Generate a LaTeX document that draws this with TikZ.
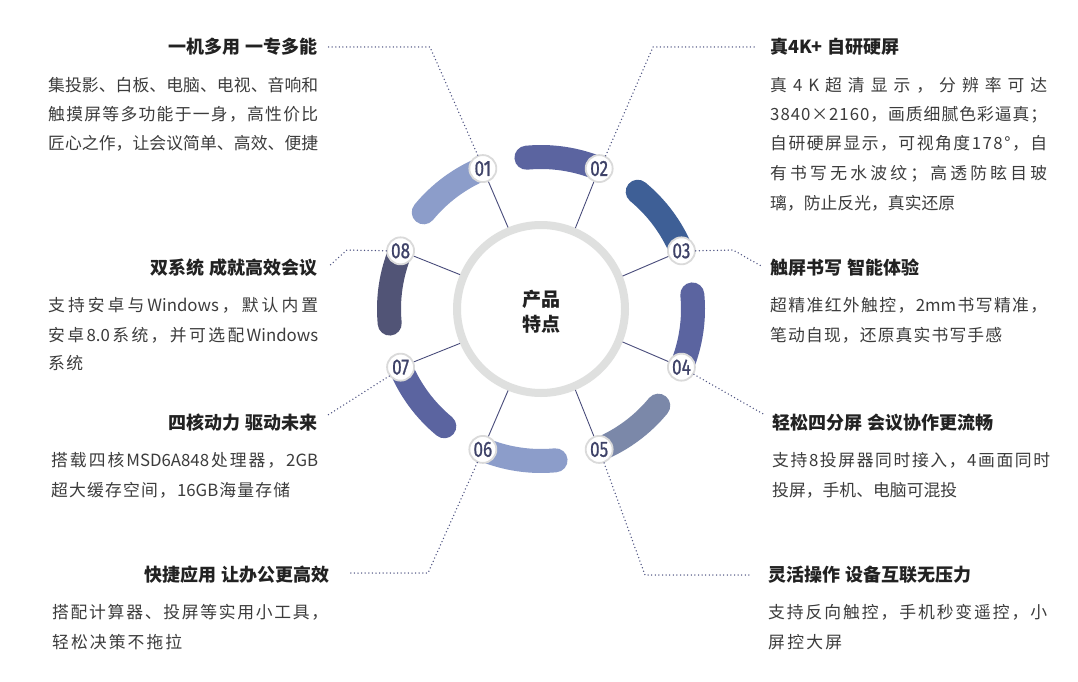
\documentclass[tikz,border=0pt]{standalone}
\usepackage{fontspec}
\setmainfont{Noto Sans CJK SC}
\newfontfamily\numfont{Fira Sans}[FakeStretch=0.78, FakeBold=0.8]
\usetikzlibrary{calc}
\definecolor{ringc}{HTML}{DFE0DF}
\definecolor{aA}{HTML}{8C9DCA}
\definecolor{aB}{HTML}{5B64A0}
\definecolor{aC}{HTML}{3E5F96}
\definecolor{aD}{HTML}{7B88A9}
\definecolor{aE}{HTML}{515476}
\definecolor{numc}{HTML}{3E4268}
\definecolor{badgeb}{HTML}{DADADA}
\definecolor{radc}{HTML}{4A4D7C}
\definecolor{leadc}{HTML}{4E5382}
\definecolor{titlec}{HTML}{222222}
\definecolor{bodyc}{HTML}{3C3C3C}
\makeatletter
\newcommand\jl[2]{\hbox to #1{\@tfor\jx:=#2\do{\jx\hfil}\unskip}}
\makeatother
\tikzset{
  arcline/.style={line width=24pt, line cap=round},
  badge/.style={circle, fill=white, draw=badgeb, line width=1.8pt, minimum size=27pt, inner sep=0pt,
    font=\numfont\fontsize{22}{22}\selectfont, text=numc},
  radial/.style={draw=radc, line width=0.9pt},
  leader/.style={draw=leadc, line width=1.5pt, dash pattern=on 0pt off 3.6pt, line cap=round},
  title/.style={font=\bfseries\fontsize{18}{20}\selectfont, text=titlec, inner sep=0pt, text height=15.8pt, text depth=2.2pt},
  body/.style={font=\fontsize{16.8}{20}\selectfont, text=bodyc, inner sep=0pt, anchor=west, text height=14.8pt, text depth=2pt}
}
\newcommand\bl[5]{\node[body] (#1) at (#2,-#3) {\jl{#4pt}{#5}};}
\begin{document}
\begin{tikzpicture}[x=1pt,y=1pt]
\useasboundingbox (0,0) rectangle (1078,-682);
\fill[white] (0,0) rectangle (1078,-682);
\coordinate (C) at (541,-309);
% central ring
\node[circle, draw=ringc, line width=8pt, minimum size=168pt, inner sep=0pt] (ring) at (C) {};
\node[font=\bfseries\fontsize{19}{25}\selectfont, text=titlec, align=center] (ctr) at ($(C)+(0,-3)$) {产品\\特点};
% arcs
\foreach \a/\c in {112.5/aA, 67.5/aB, 22.5/aC, -22.5/aB, -67.5/aD, -112.5/aA, -157.5/aB, 157.5/aE}
  \draw[arcline, draw=\c] ($(C)+(\a:152)$) arc[start angle=\a, end angle=\a+28, radius=152];
% badges
\node[badge] (b1) at ($(C)+(112.5:152)$) {01};
\node[badge] (b2) at ($(C)+(67.5:152)$) {02};
\node[badge] (b3) at ($(C)+(22.5:152)$) {03};
\node[badge] (b4) at ($(C)+(-22.5:152)$) {04};
\node[badge] (b5) at ($(C)+(-67.5:152)$) {05};
\node[badge] (b6) at ($(C)+(-112.5:152)$) {06};
\node[badge] (b7) at ($(C)+(-157.5:152)$) {07};
\node[badge] (b8) at ($(C)+(157.5:152)$) {08};
% radial lines
\draw[radial] (b1) -- (ring.112.5);
\draw[radial] (b2) -- (ring.67.5);
\draw[radial] (b3) -- (ring.22.5);
\draw[radial] (b4) -- (ring.-22.5);
\draw[radial] (b5) -- (ring.-67.5);
\draw[radial] (b6) -- (ring.-112.5);
\draw[radial] (b7) -- (ring.-157.5);
\draw[radial] (b8) -- (ring.157.5);
% titles
\node[title, anchor=east] (t1) at (318,-47) {一机多用\hspace{5pt}一专多能};
\node[title, anchor=east] (t8) at (318,-268) {双系统\hspace{5pt}成就高效会议};
\node[title, anchor=east] (t7) at (318,-423) {四核动力\hspace{5pt}驱动未来};
\node[title, anchor=east] (t6) at (330,-575) {快捷应用\hspace{5pt}让办公更高效};
\node[title, anchor=west] (t2) at (770,-47) {真4K+\hspace{5pt}自研硬屏};
\node[title, anchor=west] (t3) at (770,-268) {触屏书写\hspace{5pt}智能体验};
\node[title, anchor=west] (t4) at (772,-423) {轻松四分屏\hspace{5pt}会议协作更流畅};
\node[title, anchor=west] (t5) at (768,-575) {灵活操作\hspace{5pt}设备互联无压力};
% leaders
\coordinate (k1) at (430,-47);
\coordinate (k2) at (653,-47);
\coordinate (k3) at (733,-250);
\coordinate (k5) at (645,-575);
\coordinate (k6) at (428,-573);
\coordinate (k8) at (347,-250);
\draw[leader] (b1.111) -- (k1) -- ($(t1.east)+(10,0)$);
\draw[leader] (b2.63) -- (k2) -- ($(t2.west)+(-13,0)$);
\draw[leader] (b3.east) -- (k3) -- ($(t3.west)+(-7,1)$);
\draw[leader] (b4.-30) -- ($(t4.west)+(-7,8)$);
\draw[leader] (b5.-70) -- (k5) -- ($(t5.west)+(-16,0)$);
\draw[leader] (b6.-113) -- (k6) -- ($(t6.east)+(18,2)$);
\draw[leader] (b7.-142) -- ($(t7.east)+(10,8)$);
\draw[leader] (b8.west) -- (k8) -- ($(t8.east)+(10,1)$);
% body texts
\bl{p1a}{48}{85}{270}{集投影、白板、电脑、电视、音响和}
\bl{p1b}{48}{114}{270}{触摸屏等多功能于一身，高性价比}
\bl{p1c}{48}{143}{270}{匠心之作，让会议简单、高效、便捷}
\bl{p8a}{48}{305}{270}{支持安卓与{Windows}，默认内置}
\bl{p8b}{48}{335}{270}{安卓{8.0}系统，并可选配{Windows}}
\bl{p8c}{48}{363}{35}{系统}
\bl{p7a}{51}{460}{267}{搭载四核{MSD6A848}处理器，{2GB}}
\bl{p7b}{51}{490}{239}{超大缓存空间，{16GB}海量存储}
\bl{p6a}{52}{612}{276}{搭配计算器、投屏等实用小工具，}
\bl{p6b}{52}{642}{130}{轻松决策不拖拉}
\bl{p2a}{770}{85}{277}{真4K超清显示，分辨率可达}
\bl{p2b}{770}{114}{277}{3840×2160，画质细腻色彩逼真；}
\bl{p2c}{770}{143}{277}{自研硬屏显示，可视角度178°，自}
\bl{p2d}{770}{173}{277}{有书写无水波纹；高透防眩目玻}
\bl{p2e}{770}{203}{185}{璃，防止反光，真实还原}
\bl{p3a}{770}{305}{277}{超精准红外触控，{2mm}书写精准，}
\bl{p3b}{770}{335}{232}{笔动自现，还原真实书写手感}
\bl{p4a}{772}{460}{278}{支持8投屏器同时接入，4画面同时}
\bl{p4b}{772}{490}{185}{投屏，手机、电脑可混投}
\bl{p5a}{768}{612}{279}{支持反向触控，手机秒变遥控，小}
\bl{p5b}{768}{642}{74}{屏控大屏}
\end{tikzpicture}
\end{document}
